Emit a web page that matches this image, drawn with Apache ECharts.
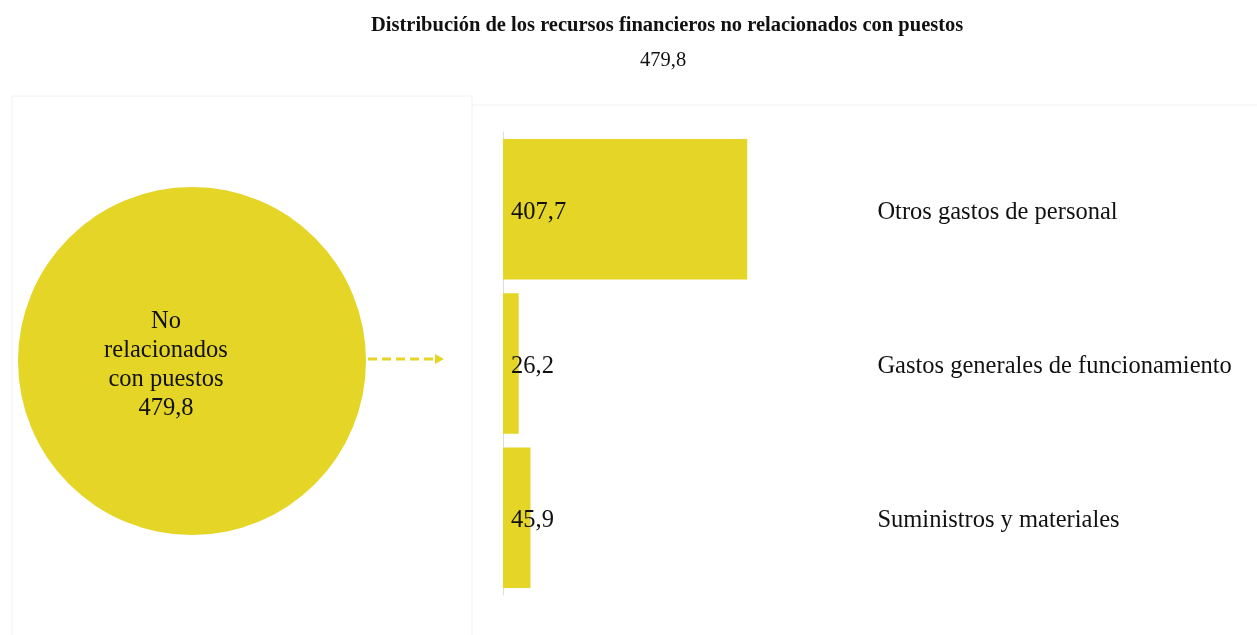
<!DOCTYPE html>
<html>
<head>
<meta charset="utf-8">
<script src="https://cdn.jsdelivr.net/npm/echarts@6/dist/echarts.min.js"></script>
<style>html,body{margin:0;padding:0;background:#fff}#c{width:1257px;height:635px}</style>
</head>
<body>
<div id="c"></div>
<script>
var titleText = 'Distribución de los recursos financieros no relacionados con puestos';
var totalValue = 479.8;
var totalName = 'No\nrelacionados\ncon puestos';
var categories = ['Otros gastos de personal', 'Gastos generales de funcionamiento', 'Suministros y materiales'];
var values = [407.7, 26.2, 45.9];

var YELLOW = '#e4d526';
var SERIF = '"Liberation Serif", "DejaVu Serif", serif';
function fmt(v){ return v.toFixed(1).replace('.', ','); }

var chart = echarts.init(document.getElementById('c'));
chart.setOption({
  backgroundColor: '#ffffff',
  animation: false,
  title: [
    {
      text: titleText, left: 366, top: 11, padding: 5,
      textStyle: { fontFamily: SERIF, fontSize: 20.5, fontWeight: 'bold', color: '#111', lineHeight: 20 }
    },
    {
      text: fmt(totalValue), left: 635, top: 46, padding: 5,
      textStyle: { fontFamily: SERIF, fontSize: 20.5, fontWeight: 'normal', color: '#111', lineHeight: 20 }
    }
  ],
  graphic: [
    { type: 'polyline', shape: { points: [[12, 635], [12, 96], [472, 96], [472, 635]] }, style: { fill: 'none', stroke: '#f2f2f2', lineWidth: 1 }, silent: true, z: -1 },
    { type: 'polyline', shape: { points: [[472, 105], [1257, 105]] }, style: { fill: 'none', stroke: '#f2f2f2', lineWidth: 1 }, silent: true, z: -1 },
    { type: 'line', shape: { x1: 368, y1: 359, x2: 436, y2: 359 }, style: { stroke: YELLOW, lineWidth: 3, lineDash: [9, 5] }, silent: true },
    { type: 'polygon', shape: { points: [[435, 354], [444, 359], [435, 364]] }, style: { fill: YELLOW }, silent: true }
  ],
  grid: { left: 503, top: 132, width: 359.4, height: 463 },
  xAxis: { type: 'value', min: 0, max: 600, show: false },
  yAxis: [
    {
      type: 'category', data: categories, inverse: true,
      axisLine: { show: true, lineStyle: { color: '#dddddd', width: 1 } },
      axisTick: { show: false }, axisLabel: { show: false }
    },
    {
      type: 'category', data: categories, inverse: true, position: 'right',
      axisLine: { show: false }, axisTick: { show: false },
      axisLabel: { show: true, margin: 15, align: 'left', fontFamily: SERIF, fontSize: 24.5, color: '#111',
        formatter: function(v){ return '{a|' + v + '}'; },
        rich: { a: { fontFamily: SERIF, fontSize: 24.5, color: '#111', padding: [6, 0, 0, 0] } } }
    }
  ],
  series: [
    {
      type: 'bar', data: values, yAxisIndex: 0, barCategoryGap: '9%',
      itemStyle: { color: YELLOW },
      label: { show: true, position: 'insideLeft', distance: 8, offset: [0, 3], fontFamily: SERIF, fontSize: 24.5, color: '#111',
        formatter: function(p){ return fmt(p.value); } }
    },
    {
      type: 'pie', center: [192, 361], radius: [0, 174], silent: true,
      startAngle: 90, data: [{ name: totalName, value: totalValue }],
      itemStyle: { color: YELLOW },
      label: { show: true, position: 'center', fontFamily: SERIF, fontSize: 24.5, lineHeight: 29, color: '#111', offset: [-26, 4],
        formatter: function(p){ return p.name + '\n' + fmt(p.value); } },
      labelLine: { show: false }
    }
  ]
});
</script>
</body>
</html>
